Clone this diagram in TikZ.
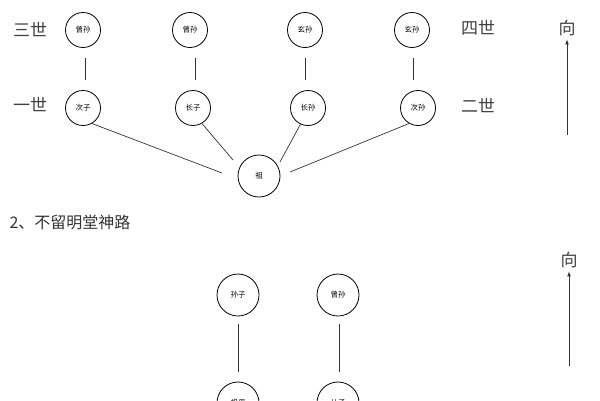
\documentclass[tikz,border=0pt]{standalone}
\usepackage{fontspec}
\newfontfamily\cjk{Noto Sans CJK SC}[Scale=1]
\begin{document}
\begin{tikzpicture}[x=1pt,y=-1pt,
  c/.style={circle,draw,line width=0.8pt,minimum size=#1,inner sep=0pt,font=\cjk\fontsize{7.5}{8}\selectfont},
  c/.default=35pt,
  lab/.style={font=\cjk\fontsize{17}{20}\selectfont,text=black!75},
  ln/.style={line width=0.7pt,draw=black!80}]
\useasboundingbox (0,0) rectangle (600,400);
\clip (0,0) rectangle (600,400);
\node[c] (a1) at (83,30) {曾孙};
\node[c] (a2) at (190,30) {曾孙};
\node[c] (a3) at (305,30) {玄孙};
\node[c] (a4) at (412,30) {玄孙};
\node[c] (b1) at (83,108) {次子};
\node[c] (b2) at (193,108) {长子};
\node[c] (b3) at (308,108) {长孙};
\node[c] (b4) at (418,108) {次孙};
\node[c=42pt] (z) at (259,176) {祖};
\node[lab] (l1) at (30,30) {三世};
\node[lab] (l2) at (30,105) {一世};
\node[lab] (l3) at (478,28) {四世};
\node[lab] (l4) at (478,106) {二世};
\node[lab] (x1) at (567,28) {向};
\coordinate (x1b) at (567,135);
\draw[ln,-latex] (x1b) -- (x1.south);
\foreach \i/\x in {1/85,2/195,3/305,4/413}
  {\coordinate (t\i a) at (\x,58); \coordinate (t\i b) at (\x,80); \draw[ln] (t\i a) -- (t\i b);}
\coordinate (e1) at (222,173); \coordinate (e2) at (233,160);
\coordinate (e3) at (280,162); \coordinate (e4) at (290,172);
\draw[ln] (b1.-60) -- (e1);
\draw[ln] (b2.-60) -- (e2);
\draw[ln] (b3.-115) -- (e3);
\draw[ln] (b4.-120) -- (e4);
\node[font=\cjk\fontsize{16}{18}\selectfont,anchor=west,text=black!80] (h) at (6,222) {2、不留明堂神路};
\node[lab] (x2) at (569,260) {向};
\coordinate (x2b) at (569,366);
\draw[ln,-latex] (x2b) -- (x2.south);
\node[c=42pt] (s1) at (238,295) {孙子};
\node[c=42pt] (s2) at (338,295) {曾孙};
\node[c=42pt] (d1) at (238,403) {祖母};
\node[c=42pt] (d2) at (338,403) {儿子};
\coordinate (v1a) at (238,324); \coordinate (v1b) at (238,372);
\coordinate (v2a) at (339,324); \coordinate (v2b) at (339,372);
\draw[ln] (v1a) -- (v1b);
\draw[ln] (v2a) -- (v2b);
\end{tikzpicture}
\end{document}
